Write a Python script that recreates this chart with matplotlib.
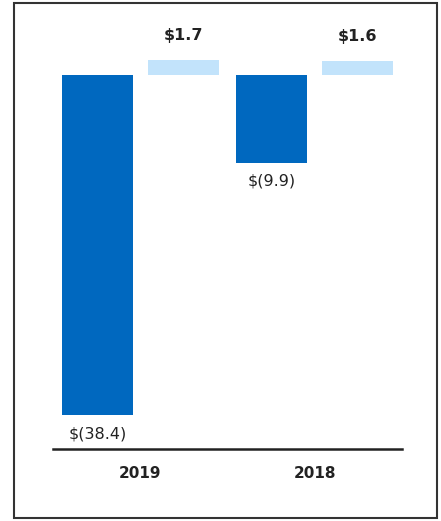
import matplotlib.pyplot as plt
from matplotlib.patches import Rectangle

years = ['2019', '2018']
losses = [-38.4, -9.9]
gains = [1.7, 1.6]
loss_labels = ['$(38.4)', '$(9.9)']
gain_labels = ['$1.7', '$1.6']

DARK = '#0068bf'
LIGHT = '#c2e3fb'

fig = plt.figure(figsize=(4.41, 5.21), dpi=100)
W, H = 441, 521
ax = fig.add_axes([53 / W, 1 - 449 / H, (402 - 53) / W, (449 - 20) / H])

x = list(range(len(years)))
off = 0.246
width = 0.406
ax.bar([i - off for i in x], losses, width=width, color=DARK)
ax.bar([i + off for i in x], gains, width=width, color=LIGHT)

for i in x:
    ax.annotate(loss_labels[i], (i - off, losses[i]), xytext=(0, -8),
                textcoords='offset points', ha='center', va='top',
                fontsize=11.5, color='#222222')
    ax.annotate(gain_labels[i], (i + off, gains[i]), xytext=(0, 12),
                textcoords='offset points', ha='center', va='bottom',
                fontsize=11.5, fontweight='bold', color='#222222')

ax.set_xlim(-0.5, 1.5)
ax.set_ylim(-42.2, 6.2)
ax.set_xticks(x)
ax.set_xticklabels(years, fontsize=11, fontweight='bold', color='#222222')
ax.tick_params(axis='x', length=0, pad=12)
ax.set_yticks([])
for s in ['top', 'left', 'right']:
    ax.spines[s].set_visible(False)
ax.spines['bottom'].set_linewidth(1.8)
ax.spines['bottom'].set_color('#222222')

fig.patches.append(Rectangle((14 / W, 3 / H), (437 - 14) / W, (518 - 3) / H,
                             transform=fig.transFigure, fill=False,
                             edgecolor='#333333', linewidth=1.5))

fig.savefig('out.png', dpi=100)
